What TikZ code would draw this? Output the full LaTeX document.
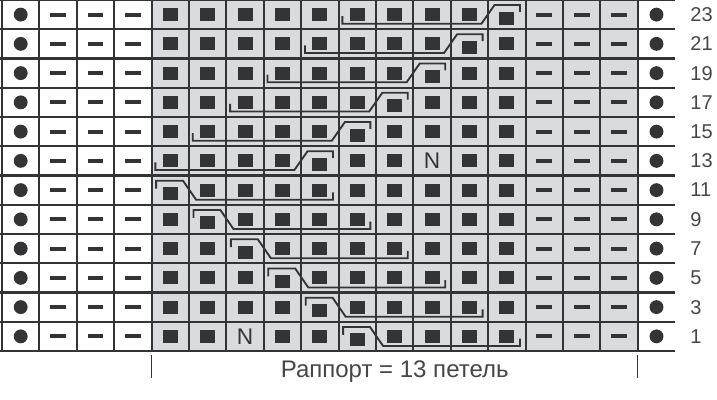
\documentclass[tikz,border=0pt]{standalone}
\usepackage{fontspec}
\setmainfont{Liberation Sans}
\usepackage{xcolor}
\definecolor{chartgrey}{RGB}{217,219,222}
\definecolor{ink}{RGB}{52,52,54}
\definecolor{labelgrey}{RGB}{70,70,72}

\begin{document}
\begin{tikzpicture}[x=28.05pt,y=-21.9375pt,
    gridline/.style={ink, line width=1.6pt},
    cableline/.style={ink, line width=1.4pt, line join=miter},
    rowlabel/.style={anchor=west, inner sep=0pt, text=labelgrey, font=\fontsize{15}{15}\selectfont}]
      \useasboundingbox (-0.0535,0) rectangle (19.118,13.675);
      % \draw[help lines, gray!50, very thin] (0,0) grid (18,12);

      \fill[chartgrey] (4,0) rectangle (17,12);
      \foreach \r in {0,...,12}
        \draw[gridline] (-0.1,\r) -- (18,\r);
      \foreach \c in {0,...,17}
        \draw[gridline] (\c,0) -- (\c,12);

      % edge stitches and purl dashes
      \foreach \r in {0,...,11} {
        \fill[ink] (0.5,\r+0.5) circle (5.2pt);
        \fill[ink] (17.5,\r+0.5) circle (5.2pt);
        \foreach \c in {1,2,3,14,15,16}
          \fill[ink] (\c+0.29,\r+0.43) rectangle (\c+0.71,\r+0.57);
      }

      % knit squares (row / crossed stitch / N cell)
      \foreach \r/\t/\n in {0/13/0,1/12/0,2/11/0,3/10/0,4/9/0,5/8/11,6/4/0,7/5/0,8/6/0,9/7/0,10/8/0,11/9/6}
        \foreach \c in {4,...,13} {
          \ifnum\c=\n\relax
          \else
            \ifnum\c=\t
              \fill[ink] (\c+0.3,\r+0.4) rectangle (\c+0.7,\r+0.84);
            \else
              \fill[ink] (\c+0.3,\r+0.28) rectangle (\c+0.7,\r+0.72);
            \fi
          \fi
        }
      \node[text=ink, font=\fontsize{17}{17}\selectfont] (nlow) at (6.5,11.5) {N};
      \node[text=ink, font=\fontsize{17}{17}\selectfont] (nhigh) at (11.5,5.5) {N};

      % crossings
      \foreach \r in {6,...,11}
        \draw[cableline] (\r-2+0.12,\r+0.45) -- ++(0,-0.27) -- (\r-2+0.84,\r+0.18)
          -- (\r-2+1.19,\r+0.83) -- (\r-2+4.85,\r+0.83) -- ++(0,-0.25);
      \foreach \r in {0,...,5}
        \draw[cableline] (9-\r+0.1,\r+0.55) -- ++(0,0.26) -- (9-\r+3.82,\r+0.81)
          -- (9-\r+4.17,\r+0.17) -- (9-\r+4.85,\r+0.17) -- ++(0,0.24);

      \foreach \r in {0,...,11} {
        \pgfmathtruncatemacro\rownum{23-2*\r}
        \node[rowlabel] (row\rownum) at (18.4,\r+0.5) {\rownum};
      }

      \draw[ink, line width=1pt] (4,12.14) -- (4,12.92);
      \draw[ink, line width=1pt] (17,12.14) -- (17,12.92);
      \node[text=labelgrey, font=\fontsize{18}{18}\selectfont] (rapport) at (10.5,12.72) {Раппорт = 13 петель};
    \end{tikzpicture}
\end{document}
